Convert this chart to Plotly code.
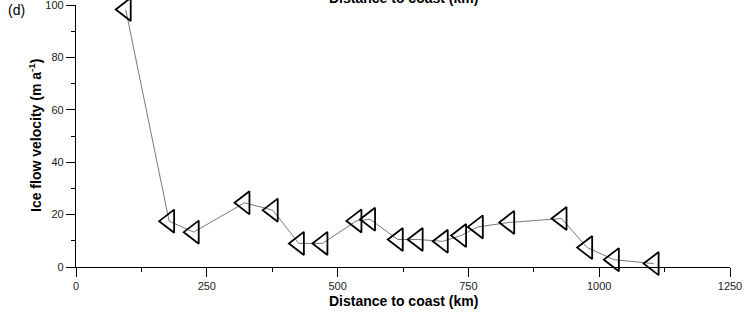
import plotly.graph_objects as go

distance_km = [95, 178, 225, 322, 376, 426, 471, 536, 562, 615, 653, 701, 736, 768, 828, 928, 977, 1028, 1104]
velocity = [98.3, 17.5, 13.3, 24.5, 21.7, 9.0, 9.0, 17.6, 18.2, 10.5, 10.5, 9.8, 12.0, 15.3, 17.0, 18.5, 7.4, 2.8, 1.3]

x_ticks = [0, 250, 500, 750, 1000, 1250]
y_ticks = [0, 20, 40, 60, 80, 100]

FONT = "Liberation Sans, Arial, sans-serif"
W, H = 749, 323
L, R, T, B = 76, 19, 5, 56
pw, ph = W - L - R, H - T - B

def px_x(p):
    return (p - L) / pw

def px_y(p):
    return (H - B - p) / ph

fig = go.Figure()
fig.add_trace(go.Scatter(
    x=distance_km, y=velocity, mode="lines+markers",
    line=dict(color="#555555", width=0.8),
    marker=dict(symbol="triangle-left-open", size=20, color="black",
                line=dict(color="black", width=1.8)),
    cliponaxis=False, showlegend=False,
))

axis_common = dict(
    showline=True, linecolor="black", linewidth=1.3,
    ticks="outside", ticklen=9, tickwidth=1.3, tickcolor="black",
    showgrid=False, zeroline=False, ticklabeloverflow="allow", automargin=False,
    tickfont=dict(family=FONT, size=11, color="#222222"),
)
fig.update_xaxes(range=[0, 1250], tickvals=x_ticks,
                 minor=dict(ticks="outside", ticklen=4, tickwidth=1.3, tickcolor="black", dtick=125, tick0=0),
                 **axis_common)
fig.update_yaxes(range=[0, 100], tickvals=y_ticks,
                 minor=dict(ticks="outside", ticklen=4, tickwidth=1.3, tickcolor="black", dtick=10, tick0=0),
                 **axis_common)

ann = [
    dict(text="<b>Distance to coast (km)</b>", x=0.5, y=px_y(301), xanchor="center", yanchor="middle",
         font=dict(family=FONT, size=14, color="black")),
    dict(text="<b>Distance to coast (km)</b>", x=0.5, y=px_y(-1.5), xanchor="center", yanchor="middle",
         font=dict(family=FONT, size=14, color="black")),
    dict(text="<b>Ice flow velocity (m a<sup>-1</sup>)</b>", x=px_x(35), y=0.5, xanchor="center", yanchor="middle",
         textangle=-90, font=dict(family=FONT, size=14, color="black")),
    dict(text="(d)", x=px_x(6), y=px_y(10), xanchor="left", yanchor="middle",
         font=dict(family=FONT, size=14, color="black")),
]
for a in ann:
    a.update(xref="paper", yref="paper", showarrow=False)

fig.update_layout(
    width=W, height=H, margin=dict(l=L, r=R, t=T, b=B, pad=0, autoexpand=False),
    plot_bgcolor="white", paper_bgcolor="white",
    annotations=ann,
)
fig.write_html("out.html")
